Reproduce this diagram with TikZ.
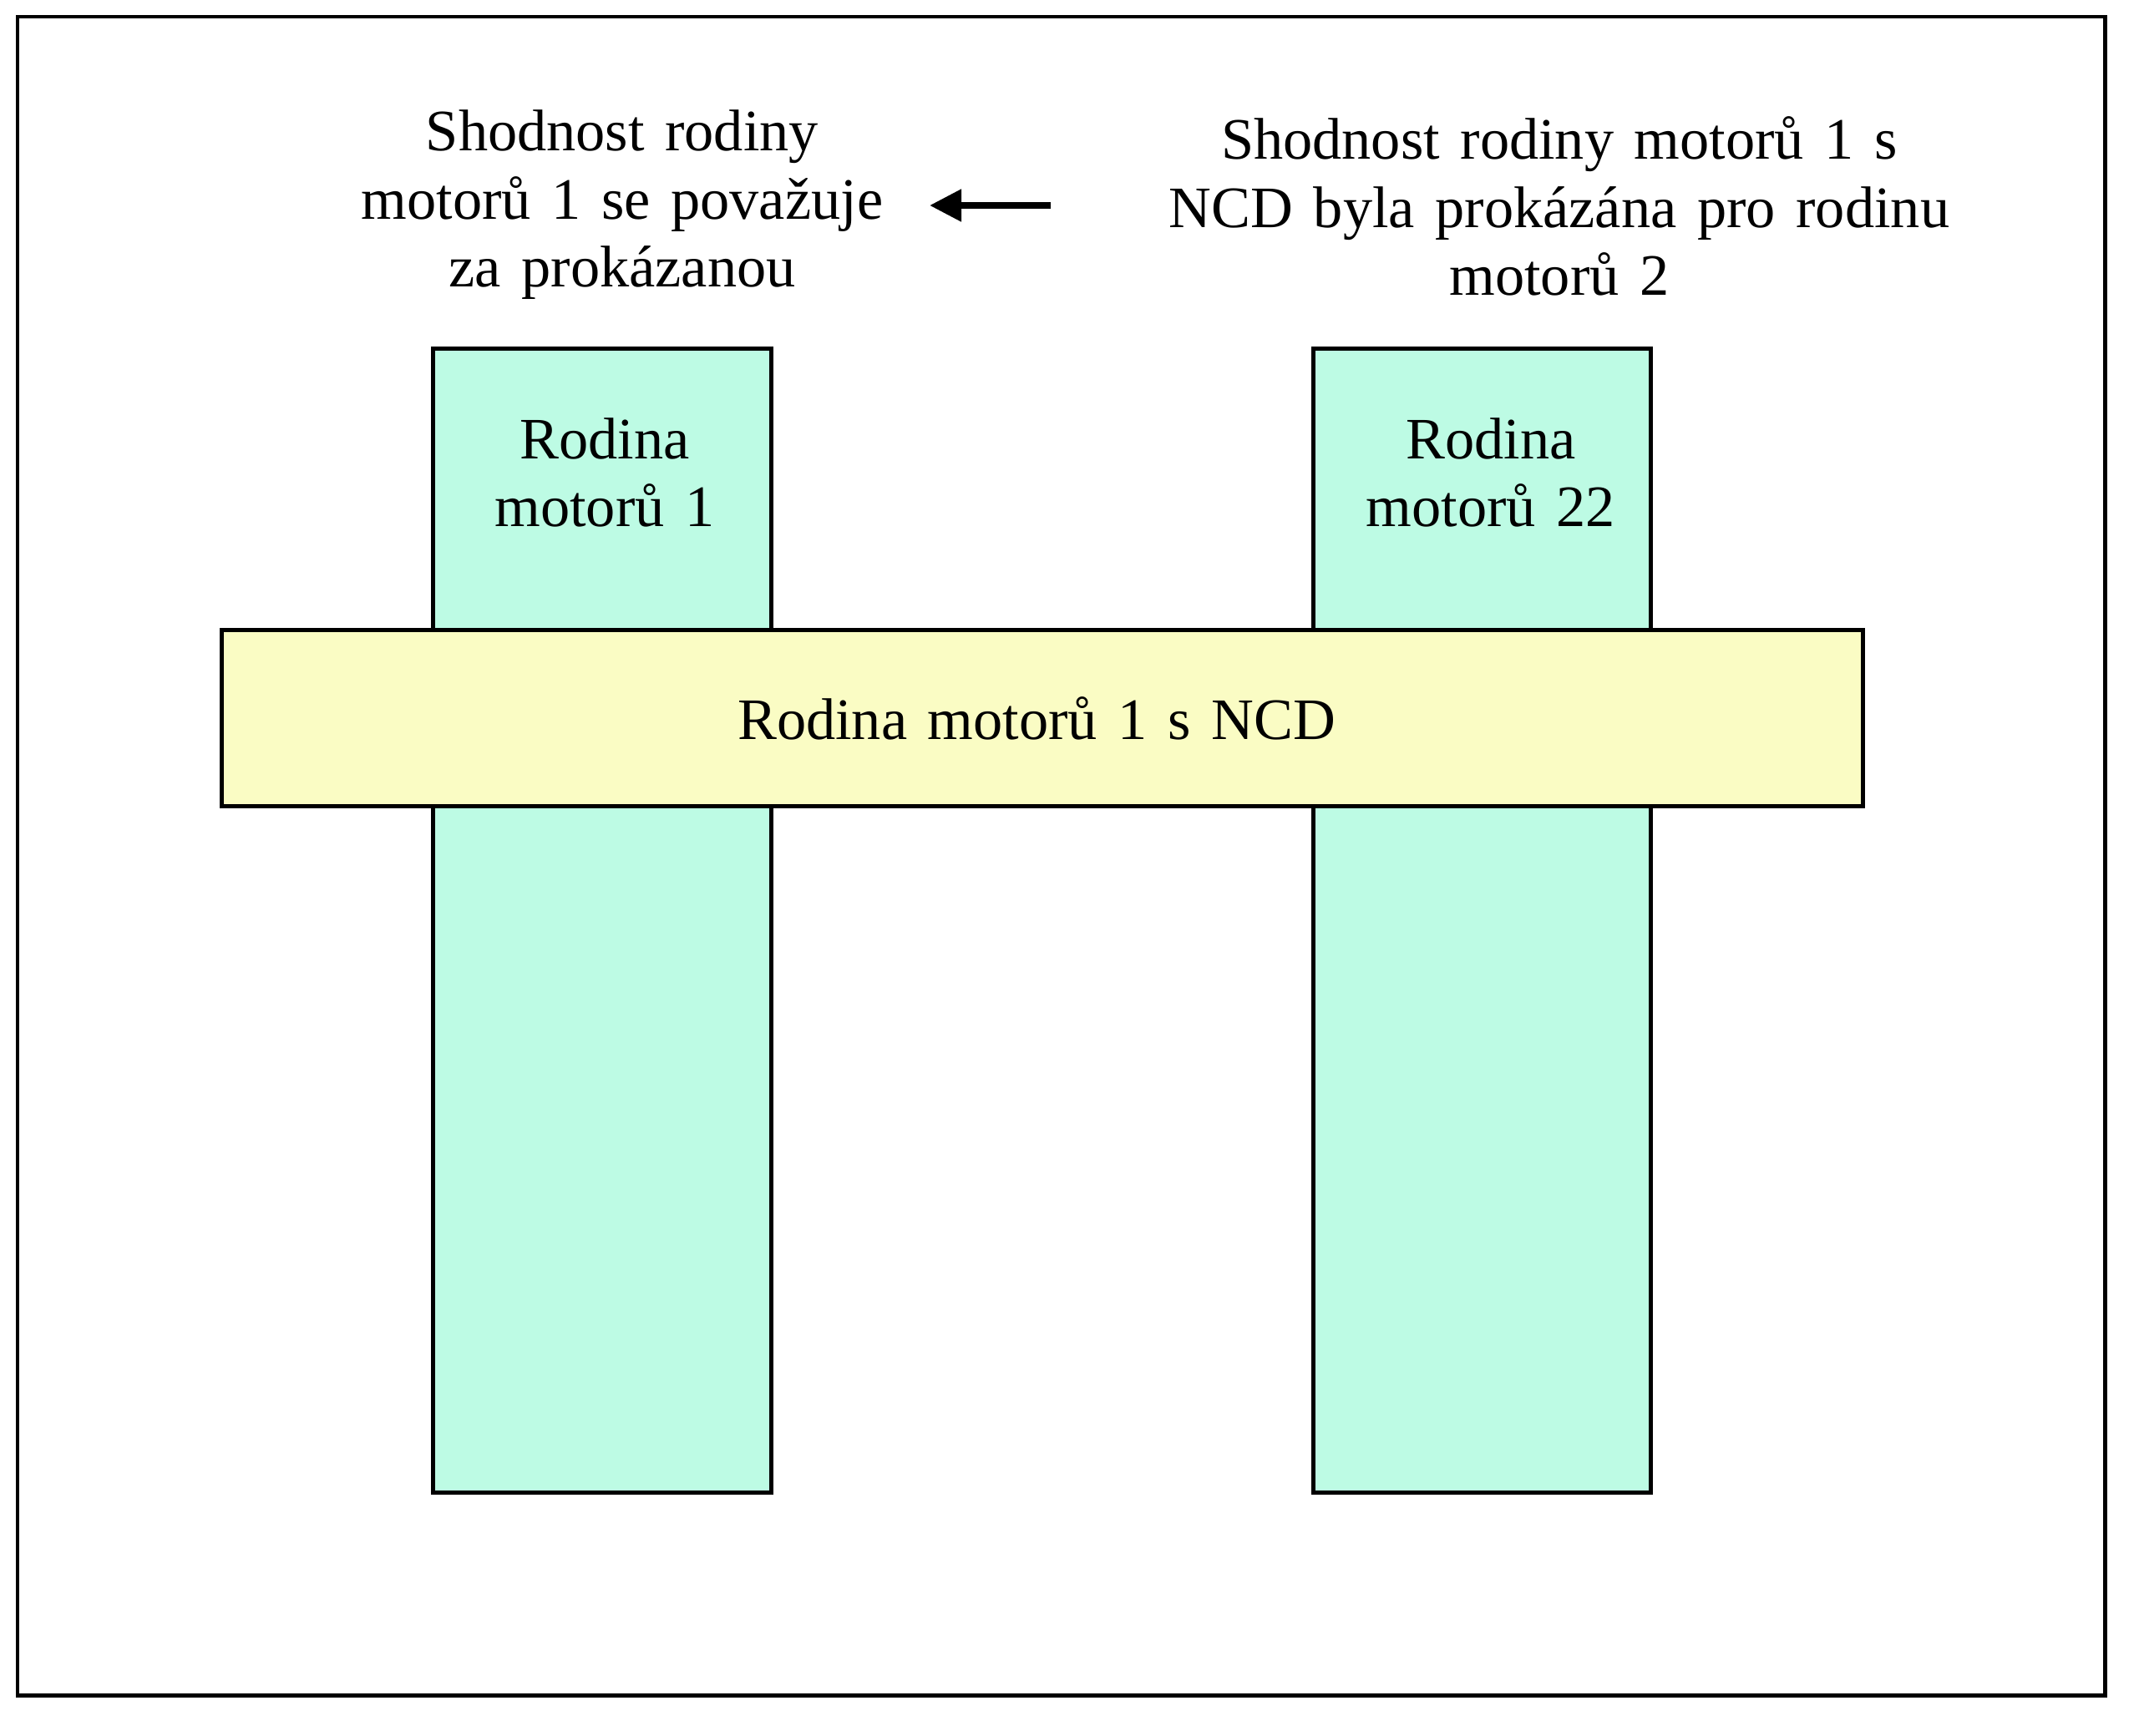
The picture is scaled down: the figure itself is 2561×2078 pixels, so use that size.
\documentclass[tikz,border=0pt]{standalone}
\usepackage{fontspec}
\setmainfont{Liberation Serif}[WordSpace=1.4]
\usetikzlibrary{arrows.meta}
\definecolor{famfill}{RGB}{189,251,228}
\definecolor{ncdfill}{RGB}{250,252,196}
\tikzset{
  family/.style = {rectangle, draw=black, fill=famfill, line width=1.4pt,
                   minimum width=4.04cm, minimum height=13.69cm, inner sep=0pt},
  ncdbar/.style = {rectangle, draw=black, fill=ncdfill, line width=1.4pt,
                   minimum width=19.64cm, minimum height=2.1cm, inner sep=0pt},
  note/.style   = {align=center, inner sep=0pt, font=\fontsize{20}{23.2}\selectfont},
  flow/.style   = {-{Triangle[length=3.8mm, width=3.7mm]}, line width=2.3pt},
}
\begin{document}
\begin{tikzpicture}[x=0.01cm, y=-0.01cm]
  \useasboundingbox (0,0) rectangle (2561,2078);
  \draw[line width=1.4pt] (21,20) rectangle (2520,2030);

  \node[note, anchor=north] (left)  at (745, 131) {Shodnost rodiny\\motorů 1 se považuje\\za prokázanou};
  \node[note, anchor=north] (right) at (1867, 139) {Shodnost rodiny motorů 1 s\\NCD byla prokázána pro rodinu\\motorů 2};

  \node[family] (fam1) at (721, 1102.5) {};
  \node[family] (fam2) at (1774.5, 1102.5) {};
  \node[note] (lab1) at (724, 566) {Rodina\\motorů 1};
  \node[note] (lab2) at (1785, 566) {Rodina\\motorů 22};

  \node[ncdbar] (ncd) at (1248, 860) {};
  \node[note] (ncdlab) at (1241, 860) {Rodina motorů 1 s NCD};

  \coordinate (tail) at (1258, 246);
  \coordinate (head) at (1113, 246);
  \draw[flow] (tail) -- (head);
\end{tikzpicture}
\end{document}
